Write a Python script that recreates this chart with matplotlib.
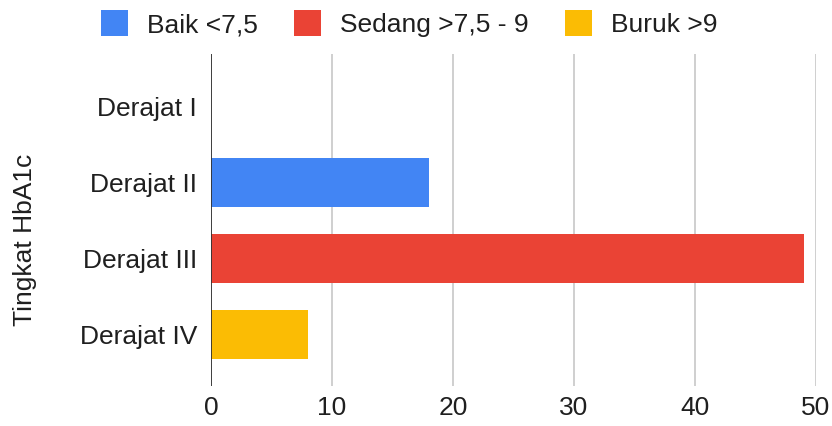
import numpy as np
import matplotlib.pyplot as plt

# Data
categories = ['Derajat I', 'Derajat II', 'Derajat III', 'Derajat IV']
baik = [0, 18, 0, 0]
sedang = [0, 0, 49, 0]
buruk = [0, 0, 0, 8]
series_names = ['Baik <7,5', 'Sedang >7,5 - 9', 'Buruk >9']
x_ticks = [0, 10, 20, 30, 40, 50]

plt.rcParams['font.family'] = ['Liberation Sans', 'DejaVu Sans']

fig = plt.figure(figsize=(8.32, 4.26), dpi=100)
ax = fig.add_axes([211 / 832, 1 - 386 / 426, 605 / 832, 332 / 426])

y = np.arange(len(categories))
h = 0.64
b1 = ax.barh(y, baik, height=h, color='#4285F4', label=series_names[0], zorder=3)
b2 = ax.barh(y, sedang, left=baik, height=h, color='#EA4335', label=series_names[1], zorder=3)
b3 = ax.barh(y, buruk, left=np.array(baik) + np.array(sedang), height=h,
             color='#FBBC04', label=series_names[2], zorder=3)

ax.set_ylim(3.68, -0.69)
ax.set_xlim(0, 50)
ax.set_yticks(y)
ax.set_yticklabels(categories)
ax.set_xticks(x_ticks)
ax.tick_params(axis='both', length=0, labelsize=19, colors='#1f1f1f')
ax.tick_params(axis='y', pad=10)
ax.tick_params(axis='x', pad=7)

ax.grid(axis='x', color='#cccccc', linewidth=1.3, zorder=0)
for s in ['top', 'right', 'bottom', 'left']:
    ax.spines[s].set_visible(False)
ax.axvline(0, color='#333333', linewidth=1.3, zorder=4)

# axis title sits a bit below the plot centre, like the original
fig.text(25 / 832, 1 - 240 / 426, 'Tingkat HbA1c', rotation=90, fontsize=19,
         color='#1f1f1f', ha='center', va='center')

fig.legend(handles=[b1, b2, b3], loc='upper left', bbox_to_anchor=(101 / 832, 1 - 10 / 426),
           ncol=3, frameon=False, fontsize=19, handlelength=1.03, handleheight=1.15,
           handletextpad=0.72, columnspacing=1.36, borderpad=0, borderaxespad=0,
           labelcolor='#1f1f1f')

fig.savefig('out.png', dpi=100)
